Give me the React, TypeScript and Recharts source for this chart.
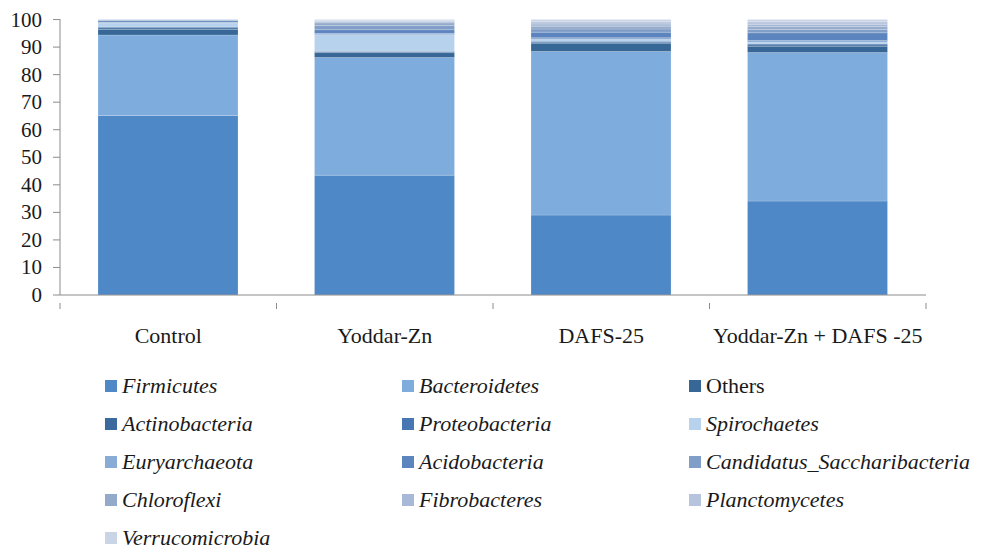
import React from 'react';
import { BarChart, Bar, XAxis, YAxis } from 'recharts';

const categories = ['Control', 'Yoddar-Zn', 'DAFS-25', 'Yoddar-Zn + DAFS -25'];

const seriesNames = [
  'Firmicutes', 'Bacteroidetes', 'Others', 'Actinobacteria', 'Proteobacteria',
  'Spirochaetes', 'Euryarchaeota', 'Acidobacteria', 'Candidatus_Saccharibacteria',
  'Chloroflexi', 'Fibrobacteres', 'Planctomycetes', 'Verrucomicrobia',
];

const seriesColors = [
  '#4F88C7', '#7EACDD', '#376797', '#3D6A9C', '#4777B3',
  '#B7D2EC', '#88ACD5', '#5C84BE', '#819EC8', '#93AACB',
  '#A7B9D6', '#B6C5DD', '#C9D4E6',
];

// values per category, in order: Control, Yoddar-Zn, DAFS-25, Yoddar-Zn + DAFS -25
const firmicutes = [65.2, 43.5, 29.0, 34.1];
const bacteroidetes = [29.2, 42.7, 59.4, 53.9];
const others = [2.0, 1.8, 3.0, 2.3];
const actinobacteria = [0.6, 0.3, 0.4, 0.5];
const proteobacteria = [0.3, 0.2, 0.3, 0.3];
const spirochaetes = [1.5, 6.0, 0.7, 0.7];
const euryarchaeota = [0.3, 0.5, 0.6, 0.6];
const acidobacteria = [0.5, 1.3, 2.0, 2.8];
const candidatus = [0.2, 1.5, 1.2, 1.2];
const chloroflexi = [0.1, 1.0, 1.0, 1.0];
const fibrobacteres = [0.1, 0.5, 0.8, 0.9];
const planctomycetes = [0.1, 0.4, 0.8, 0.9];
const verrucomicrobia = [0.1, 0.3, 0.8, 0.8];

const seriesValues = [
  firmicutes, bacteroidetes, others, actinobacteria, proteobacteria,
  spirochaetes, euryarchaeota, acidobacteria, candidatus,
  chloroflexi, fibrobacteres, planctomycetes, verrucomicrobia,
];

const yTicks = [0, 10, 20, 30, 40, 50, 60, 70, 80, 90, 100];

const data = categories.map((name, i) => {
  const row: any = { name };
  seriesNames.forEach((s, j) => {
    row[s] = seriesValues[j][i];
  });
  return row;
});

const FONT = "'Liberation Serif', Tinos, 'Times New Roman', 'DejaVu Serif', serif";
const BAND = (926 - 60) / categories.length;

const CategoryTick = (props: any) => {
  const { x, y, payload } = props;
  return (
    <g>
      <line x1={x - BAND / 2} y1={y} x2={x - BAND / 2} y2={y + 6} stroke="#8c8c8c" />
      {payload.index === categories.length - 1 && (
        <line x1={x + BAND / 2} y1={y} x2={x + BAND / 2} y2={y + 6} stroke="#8c8c8c" />
      )}
      <text x={x} y={y + 40} textAnchor="middle" fill="#1a1a1a" style={{ fontFamily: FONT, fontSize: 22 }}>
        {payload.value}
      </text>
    </g>
  );
};

const YTick = (props: any) => {
  const { x, y, payload } = props;
  return (
    <text x={x} y={y + 7} textAnchor="end" fill="#1a1a1a" style={{ fontFamily: FONT, fontSize: 21 }}>
      {payload.value}
    </text>
  );
};

const legendCols = [105, 402, 689];

const App: React.FC = () => {
  return (
    <div style={{ position: 'absolute', left: 0, top: 0, width: 985, height: 549, background: '#fff', fontFamily: FONT }}>
      <BarChart
        width={985}
        height={549}
        data={data}
        margin={{ top: 19, right: 59, left: 0, bottom: 194 }}
        barSize={140}
        style={{ fontFamily: FONT }}
      >
        <XAxis
          dataKey="name"
          axisLine={{ stroke: '#8c8c8c' }}
          tickLine={false}
          tick={<CategoryTick />}
          height={60}
          interval={0}
        />
        <YAxis
          width={60}
          domain={[0, 100]}
          ticks={yTicks}
          interval={0}
          axisLine={{ stroke: '#8c8c8c' }}
          tickLine={{ stroke: '#8c8c8c' }}
          tickSize={7}
          tickMargin={11}
          tick={<YTick />}
        />
        {seriesNames.map((s, j) => (
          <Bar
            key={s}
            dataKey={s}
            stackId="a"
            fill={seriesColors[j]}
            stroke="#ffffff"
            strokeOpacity={0.35}
            strokeWidth={0.5}
            isAnimationActive={false}
          />
        ))}
      </BarChart>
      {seriesNames.map((s, j) => {
        const col = j % 3;
        const row = Math.floor(j / 3);
        const cy = 386 + row * 38;
        return (
          <div
            key={s}
            style={{
              position: 'absolute',
              left: legendCols[col],
              top: cy - 15,
              height: 30,
              display: 'flex',
              alignItems: 'center',
              fontFamily: FONT,
              fontSize: 22,
              color: '#1a1a1a',
              whiteSpace: 'nowrap',
            }}
          >
            <span style={{ display: 'inline-block', width: 12, height: 12, background: seriesColors[j], marginRight: 5 }} />
            <span style={{ fontStyle: s === 'Others' ? 'normal' : 'italic' }}>{s}</span>
          </div>
        );
      })}
    </div>
  );
};

export default App;
